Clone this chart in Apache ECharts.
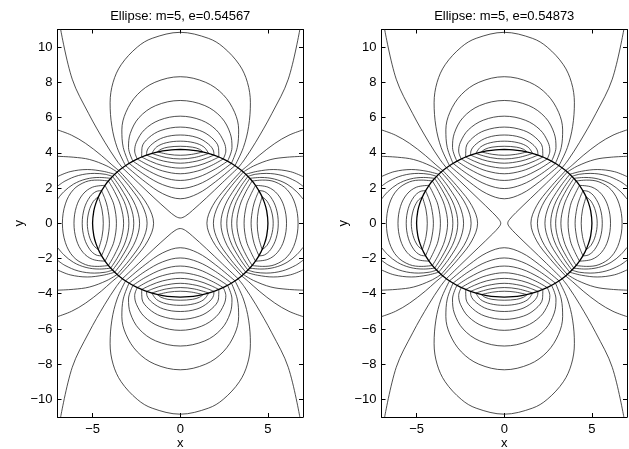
<!DOCTYPE html>
<html lang="en">
<head>
    <meta charset="UTF-8">
    <title></title>
    <script src="https://cdn.jsdelivr.net/npm/echarts@6/dist/echarts.min.js"></script>
</head>
<body style="margin:0">
<div id="box1" style="width: 629px;height: 449px"></div>
<script>
    var titles = ['Ellipse: m=5, e=0.54567', 'Ellipse: m=5, e=0.54873'];
    var xTicks = [-5, 0, 5];
    var yTicks = [-10, -8, -6, -4, -2, 0, 2, 4, 6, 8, 10];

    // all curves are read in the first quadrant (x>=0, y>=0) and mirrored
    var ellipseQ = [[0, 4.19], [0.5, 4.17], [1, 4.105], [1.5, 4.0], [2, 3.84], [2.5, 3.63], [3, 3.35],
        [3.5, 2.99], [4, 2.51], [4.3, 2.14], [4.6, 1.64], [4.8, 1.17], [4.93, 0.7], [5, 0]];

    // lobes above the ellipse: from the y axis down to the ellipse
    var topLobes = [
        [[0, 10.84], [1.6, 10.5], [2.45, 10.0], [3.37, 9.0], [3.83, 8.0], [4.0, 6.84], [3.9, 5.5], [3.6, 4.3], [3.12, 3.27]],
        [[0, 8.32], [1.45, 8.0], [2.45, 7.3], [3.1, 6.3], [3.33, 5.3], [3.25, 4.3], [2.92, 3.40]],
        [[0, 6.97], [1.4, 6.68], [2.35, 6.0], [2.85, 5.1], [2.95, 4.3], [2.7, 3.53]],
        [[0, 6.08], [1.2, 5.85], [2.05, 5.3], [2.5, 4.6], [2.6, 4.1], [2.45, 3.65]],
        [[0, 5.46], [1.1, 5.27], [1.8, 4.85], [2.18, 4.3], [2.2, 3.76]],
        [[0, 5.01], [0.95, 4.87], [1.6, 4.5], [1.9, 4.1], [1.92, 3.87]],
        [[0, 4.66], [0.8, 4.57], [1.35, 4.33], [1.62, 3.96]],
        [[0, 4.37], [0.7, 4.32], [1.1, 4.2], [1.3, 4.05]]
    ];
    // their continuation inside the ellipse
    var topInner = [
        [[0, 1.39], [1, 1.68], [2, 2.35], [3.12, 3.27]],
        [[0, 1.97], [1, 2.19], [2, 2.73], [2.92, 3.40]],
        [[0, 2.43], [1, 2.61], [2, 3.08], [2.7, 3.53]],
        [[0, 2.81], [1, 2.97], [1.8, 3.29], [2.45, 3.65]],
        [[0, 3.13], [1, 3.27], [1.7, 3.52], [2.2, 3.76]],
        [[0, 3.41], [0.95, 3.53], [1.5, 3.70], [1.92, 3.87]],
        [[0, 3.65], [0.8, 3.73], [1.62, 3.96]],
        [[0, 3.86], [0.65, 3.91], [1.3, 4.05]]
    ];
    // from the top edge down to the ellipse
    var cornerLines = [
        [[6.82, 11.0], [6.16, 8.18], [5.22, 6.22], [4.3, 4.6], [3.65, 3.6], [3.3, 3.15]]
    ];
    // lobes right of the ellipse: from the x axis to the ellipse
    var sideLobes = [
        [[6.72, 0], [6.55, 1.1], [6.1, 1.9], [5.4, 2.35], [4.7, 2.45], [4.10, 2.4]],
        [[6.06, 0], [5.92, 0.95], [5.55, 1.65], [5.0, 2.05], [4.29, 2.15]],
        [[5.59, 0], [5.47, 0.85], [5.15, 1.5], [4.8, 1.8], [4.49, 1.85]],
        [[5.30, 0], [5.2, 0.7], [4.95, 1.25], [4.67, 1.5]]
    ];
    // from the right edge to the ellipse
    var sideEdge = [
        [[7, 5.3], [6.2, 5.0], [5.39, 4.53], [4.5, 3.85], [3.9, 3.32], [3.5, 2.99]],
        [[7, 3.8], [6.1, 3.75], [5.17, 3.62], [4.18, 3.25], [3.6, 2.91]],
        [[7, 2.65], [6.28, 2.93], [5.3, 3.05], [4.4, 2.95], [3.74, 2.78]],
        [[7, 2.1], [6.58, 2.39], [5.81, 2.71], [4.9, 2.83], [4.28, 2.78], [3.86, 2.66]],
        [[7, 1.37], [6.65, 1.78], [6.09, 2.22], [5.37, 2.51], [4.6, 2.6], [3.97, 2.55]]
    ];
    var sideInner = [
        [[1.52, 0], [1.85, 1], [2.6, 2], [3.5, 2.99]],
        [[1.89, 0], [2.16, 1], [2.83, 2], [3.6, 2.91]],
        [[2.32, 0], [2.55, 1], [3.14, 2], [3.74, 2.78]],
        [[2.65, 0], [2.85, 1], [3.39, 2], [3.86, 2.66]],
        [[2.93, 0], [3.11, 1], [3.55, 1.9], [3.97, 2.55]],
        [[3.23, 0], [3.40, 1], [3.75, 1.8], [4.10, 2.4]],
        [[3.64, 0], [3.77, 1], [4.01, 1.6], [4.29, 2.15]],
        [[4.04, 0], [4.15, 0.9], [4.30, 1.4], [4.49, 1.85]],
        [[4.39, 0], [4.46, 0.75], [4.67, 1.5]]
    ];
    // the line through the centre: opens up/down on the left, sideways on the right
    var centerLeft = [[0, 0.3], [0.3, 0.41], [0.7, 0.73], [1.5, 1.45], [2.4, 2.3], [3.3, 3.15]];
    var centerRight = [[0.2, 0], [0.29, 0.2], [0.66, 0.6], [1.49, 1.4], [2.41, 2.28], [3.3, 3.15]];

    var font = 'Liberation Sans';

    function flip(pts, sx, sy) {
        return pts.map(function (p) { return [p[0] * sx, p[1] * sy]; });
    }
    function acrossY(q) { return flip(q, -1, 1).reverse().concat(q.slice(1)); }
    function acrossX(q) { return flip(q, 1, -1).reverse().concat(q.slice(1)); }
    function minus(v) { return String(v).replace('-', '\u2212'); }

    var mychart = echarts.init(document.getElementById('box1'));
    var grids = [], xAxes = [], yAxes = [], series = [], graphics = [];
    var lefts = [57.5, 381.5];

    for (var p = 0; p < 2; p++) {
        grids.push({left: lefts[p], top: 29.5, width: 245.5, height: 387.5, outerBoundsMode: 'none'});
        var tickStyle = {inside: true, length: 4, lineStyle: {color: '#000', width: 1}};
        xAxes.push({
            type: 'value', gridIndex: p, min: -7, max: 7, position: 'bottom',
            axisLine: {onZero: false, lineStyle: {color: '#000', width: 1}},
            axisTick: Object.assign({customValues: xTicks}, tickStyle),
            axisLabel: {customValues: xTicks, color: '#000', fontSize: 13, fontFamily: font, margin: 6, formatter: minus},
            splitLine: {show: false},
            name: 'x', nameLocation: 'middle', nameGap: 20, nameMoveOverlap: false,
            nameTextStyle: {color: '#000', fontSize: 13, fontFamily: font}
        });
        xAxes.push({
            type: 'value', gridIndex: p, min: -7, max: 7, position: 'top',
            axisLine: {onZero: false, lineStyle: {color: '#000', width: 1}},
            axisTick: Object.assign({customValues: xTicks}, tickStyle),
            axisLabel: {show: false}, splitLine: {show: false}
        });
        yAxes.push({
            type: 'value', gridIndex: p, min: -11, max: 11, position: 'left',
            axisLine: {onZero: false, lineStyle: {color: '#000', width: 1}},
            axisTick: Object.assign({customValues: yTicks}, tickStyle),
            axisLabel: {customValues: yTicks, color: '#000', fontSize: 13, fontFamily: font, margin: 5, formatter: minus},
            splitLine: {show: false},
            name: 'y', nameLocation: 'middle', nameGap: 32, nameRotate: 90, nameMoveOverlap: false,
            nameTextStyle: {color: '#000', fontSize: 13, fontFamily: font}
        });
        yAxes.push({
            type: 'value', gridIndex: p, min: -11, max: 11, position: 'right',
            axisLine: {onZero: false, lineStyle: {color: '#000', width: 1}},
            axisTick: Object.assign({customValues: yTicks}, tickStyle),
            axisLabel: {show: false}, splitLine: {show: false}
        });

        graphics.push({
            type: 'text', x: lefts[p] + 122.75, y: 16,
            style: {text: titles[p], textAlign: 'center', textVerticalAlign: 'middle',
                font: '13px "' + font + '"', fill: '#000'}
        });

        var lines = [];
        topLobes.concat(topInner).forEach(function (q) {
            var c = acrossY(q);
            lines.push(c, flip(c, 1, -1));
        });
        sideLobes.concat(sideInner).forEach(function (q) {
            var c = acrossX(q);
            lines.push(c, flip(c, -1, 1));
        });
        cornerLines.concat(sideEdge).forEach(function (q) {
            [[1, 1], [-1, 1], [1, -1], [-1, -1]].forEach(function (s) {
                lines.push(flip(q, s[0], s[1]));
            });
        });
        if (p === 0) {
            var cv = acrossY(centerLeft);
            lines.push(cv, flip(cv, 1, -1));
        } else {
            var ch = acrossX(centerRight);
            lines.push(ch, flip(ch, -1, 1));
        }

        lines.forEach(function (d) {
            series.push({
                type: 'line', xAxisIndex: 2 * p, yAxisIndex: 2 * p, data: d,
                symbol: 'none', smooth: 0.35, silent: true,
                lineStyle: {color: '#222', width: 0.8}
            });
        });

        var ell = ellipseQ
            .concat(flip(ellipseQ, 1, -1).reverse().slice(1))
            .concat(flip(ellipseQ, -1, -1).slice(1))
            .concat(flip(ellipseQ, -1, 1).reverse().slice(1));
        series.push({
            type: 'line', xAxisIndex: 2 * p, yAxisIndex: 2 * p, data: ell,
            symbol: 'none', smooth: 0.35, silent: true,
            lineStyle: {color: '#000', width: 1.3}
        });
    }

    mychart.setOption({
        animation: false,
        backgroundColor: '#fff',
        grid: grids,
        xAxis: xAxes,
        yAxis: yAxes,
        graphic: graphics,
        series: series
    });
</script>
</body>
</html>
